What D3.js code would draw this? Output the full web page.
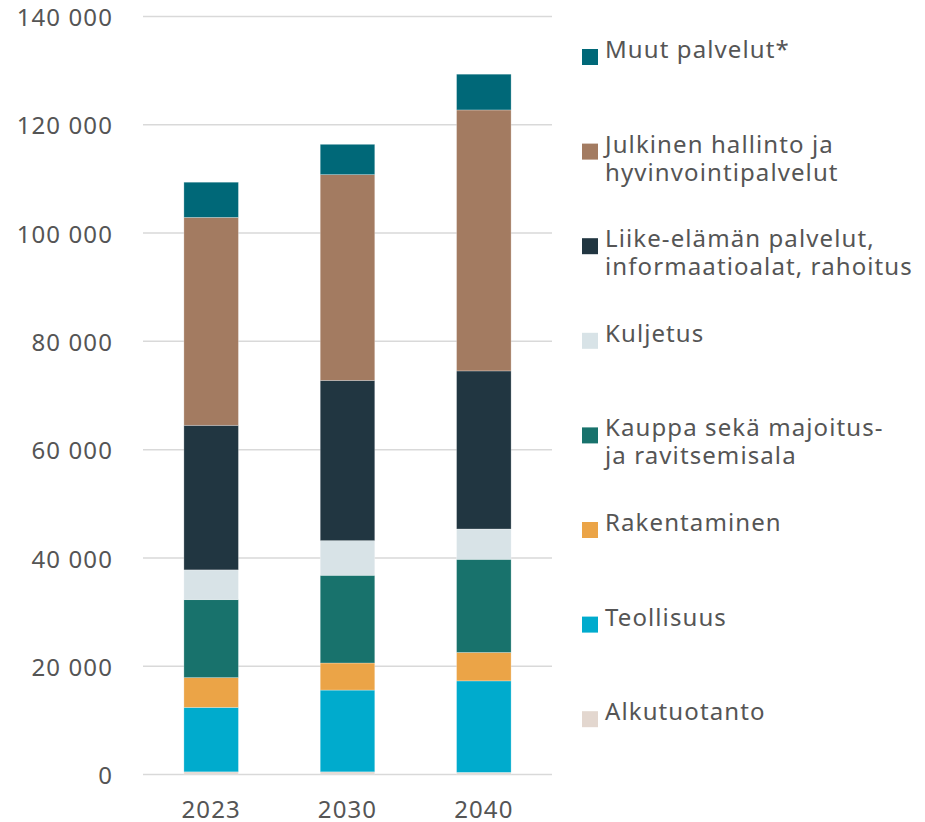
<!DOCTYPE html>
<html>
<head>
  <meta charset="UTF-8">
  <title>Työpaikat toimialoittain</title>
  <script src="https://d3js.org/d3.v7.min.js"></script>
  <style>
    body { margin: 0; background: #fff; }
    text { font-family: "Noto Sans", sans-serif; fill: #555; letter-spacing: 1.1px; }
  </style>
</head>
<body>
  <div id="chart"></div>

  <script>
    // data (bottom of stack first)
    const years = ["2023", "2030", "2040"];
    const alkutuotanto = [400, 400, 300];
    const teollisuus = [11900, 15100, 16900];
    const rakentaminen = [5500, 5000, 5250];
    const kauppa = [14400, 16200, 17200];
    const kuljetus = [5500, 6400, 5600];
    const liike = [26700, 29600, 29200];
    const julkinen = [38400, 38000, 48200];
    const muut = [6500, 5600, 6600];
    const yTicks = [0, 20000, 40000, 60000, 80000, 100000, 120000, 140000];

    const series = [
      { key: "alk", label: ["Alkutuotanto"], values: alkutuotanto, color: "#e3d7cf" },
      { key: "teo", label: ["Teollisuus"], values: teollisuus, color: "#00abcd" },
      { key: "rak", label: ["Rakentaminen"], values: rakentaminen, color: "#eba447" },
      { key: "kau", label: ["Kauppa sekä majoitus-", "ja ravitsemisala"], values: kauppa, color: "#18726c" },
      { key: "kul", label: ["Kuljetus"], values: kuljetus, color: "#d8e3e7" },
      { key: "lii", label: ["Liike-elämän palvelut,", "informaatioalat, rahoitus"], values: liike, color: "#213641" },
      { key: "jul", label: ["Julkinen hallinto ja", "hyvinvointipalvelut"], values: julkinen, color: "#a37b61" },
      { key: "muu", label: ["Muut palvelut*"], values: muut, color: "#006878" }
    ];

    const rows = years.map((y, i) => {
      const r = { year: y };
      series.forEach(s => { r[s.key] = s.values[i]; });
      return r;
    });

    const W = 925, H = 822;
    const plot = { left: 143, right: 552, top: 16, bottom: 774 };

    const svg = d3.select("#chart").append("svg")
      .attr("width", W)
      .attr("height", H);

    const x = d3.scaleBand()
      .domain(years)
      .range([plot.left, plot.right])
      .paddingInner(0.6)
      .paddingOuter(0.3);

    const y = d3.scaleLinear()
      .domain([0, 140000])
      .range([plot.bottom, plot.top]);

    const fmt = d => d3.format(",")(d).replace(/,/g, " ");

    // gridlines + y labels
    const yAxis = svg.append("g")
      .attr("transform", "translate(" + plot.left + ",0)")
      .call(d3.axisLeft(y).tickValues(yTicks).tickSize(-(plot.right - plot.left)).tickPadding(30).tickFormat(fmt));
    yAxis.select(".domain").remove();
    yAxis.selectAll(".tick line").attr("stroke", "#d9d9d9").attr("stroke-width", 1.5);
    yAxis.selectAll(".tick text")
      .attr("font-size", 24)
      .attr("fill", "#555")
      .attr("dy", "0.4em")
      .style("font-family", "'Noto Sans', sans-serif");

    const stack = d3.stack().keys(series.map(s => s.key));
    const layers = stack(rows);

    svg.append("g").selectAll("g")
      .data(layers)
      .join("g")
      .attr("fill", (d, i) => series[i].color)
      .selectAll("rect")
      .data(d => d)
      .join("rect")
      .attr("x", d => x(d.data.year))
      .attr("width", x.bandwidth())
      .attr("y", d => y(d[1]))
      .attr("height", d => y(d[0]) - y(d[1]))
      .attr("stroke", "#ffffff")
      .attr("stroke-opacity", 0.35)
      .attr("stroke-width", 0.75);

    // x labels
    const xAxis = svg.append("g")
      .attr("transform", "translate(0," + plot.bottom + ")")
      .call(d3.axisBottom(x).tickSize(0).tickPadding(27));
    xAxis.select(".domain").remove();
    xAxis.selectAll(".tick text")
      .attr("font-size", 24)
      .attr("fill", "#555")
      .style("font-family", "'Noto Sans', sans-serif");

    // legend, top entry = top of stack
    const legendItems = series.slice().reverse();
    const legend = svg.append("g").attr("transform", "translate(582,49)");
    const item = legend.selectAll("g")
      .data(legendItems)
      .join("g")
      .attr("transform", (d, i) => "translate(0," + (i * 94.6) + ")");

    item.append("rect")
      .attr("width", 16)
      .attr("height", 16)
      .attr("fill", d => d.color);

    item.append("text")
      .attr("x", 23)
      .attr("font-size", 24)
      .selectAll("tspan")
      .data(d => d.label)
      .join("tspan")
      .attr("x", 23)
      .attr("y", (d, i) => 9 + i * 28)
      .text(d => d);
  </script>
</body>
</html>
